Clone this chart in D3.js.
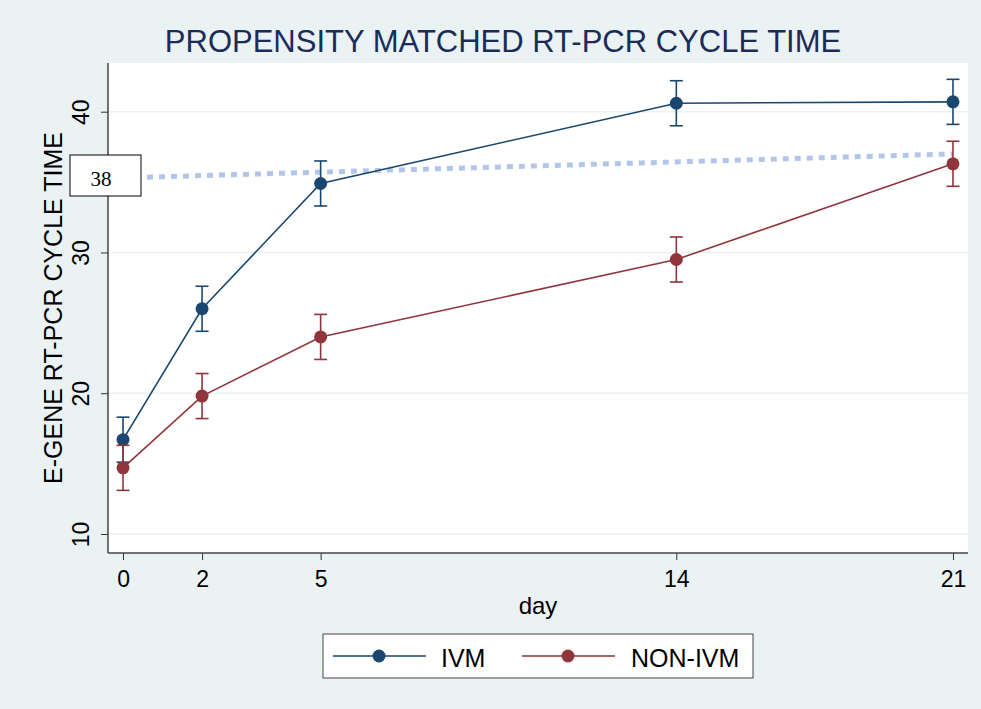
<!DOCTYPE html>
<html>
<head>
<meta charset="utf-8">
<script src="https://cdn.jsdelivr.net/npm/d3@7"></script>
<style>
  html, body { margin: 0; padding: 0; background: #eaf2f3; }
  svg { display: block; font-family: "Liberation Sans", Arial, sans-serif; }
</style>
</head>
<body>
<div id="chart"></div>
<script>
// chart data
const days = [0, 2, 5, 14, 21];
const ivmMean = [16.7, 26.0, 34.9, 40.6, 40.7];
const ivmLow = [15.1, 24.4, 33.3, 39.0, 39.1];
const ivmHigh = [18.3, 27.6, 36.5, 42.2, 42.3];
const nonMean = [14.7, 19.8, 24.0, 29.5, 36.3];
const nonLow = [13.1, 18.2, 22.4, 27.9, 34.7];
const nonHigh = [16.3, 21.4, 25.6, 31.1, 37.9];
const refDays = [0, 21];
const refValues = [35.3, 37.0];
const refLabel = '38';
const yTicks = [10, 20, 30, 40];
const seriesNames = ['IVM', 'NON-IVM'];

const width = 981, height = 709;
const plot = { left: 108, right: 968, top: 63, bottom: 553 };
const colors = { IVM: '#1a476f', 'NON-IVM': '#90353b' };

const svg = d3.select('#chart').append('svg')
  .attr('width', width)
  .attr('height', height);

svg.append('rect')
  .attr('width', width).attr('height', height)
  .attr('fill', '#eaf2f3');

svg.append('rect')
  .attr('x', plot.left).attr('y', plot.top)
  .attr('width', plot.right - plot.left)
  .attr('height', plot.bottom - plot.top)
  .attr('fill', '#fff');

const x = d3.scaleLinear().domain([-0.38, 21.38]).range([plot.left, plot.right]);
const y = d3.scaleLinear().domain([10, 40]).range([534, 111.7]);

// gridlines
svg.append('g').selectAll('line')
  .data(yTicks)
  .join('line')
  .attr('x1', plot.left).attr('x2', plot.right)
  .attr('y1', d => y(d)).attr('y2', d => y(d))
  .attr('stroke', '#eaf2f3')
  .attr('stroke-width', 1.5);

// axes
const yAxis = svg.append('g')
  .attr('transform', `translate(${plot.left},0)`)
  .call(d3.axisLeft(y).tickValues(yTicks).tickSize(7).tickFormat(d3.format('d')));
const xAxis = svg.append('g')
  .attr('transform', `translate(0,${plot.bottom})`)
  .call(d3.axisBottom(x).tickValues(days).tickSize(7).tickFormat(d3.format('d')));

[yAxis, xAxis].forEach(ax => {
  ax.select('.domain').remove();
  ax.selectAll('line').attr('stroke', '#333');
  ax.selectAll('text').attr('fill', '#000').attr('font-size', 23)
    .attr('font-family', '"Liberation Sans", Arial, sans-serif');
});
// vertical tick labels, reading bottom to top
yAxis.selectAll('text')
  .attr('text-anchor', 'middle')
  .attr('transform', 'translate(-19,0) rotate(-90)')
  .attr('x', 0).attr('y', 0).attr('dy', 0);
xAxis.selectAll('text').attr('y', 34).attr('dy', 0);

svg.append('line')
  .attr('x1', plot.left).attr('x2', plot.left)
  .attr('y1', plot.top).attr('y2', plot.bottom)
  .attr('stroke', '#444').attr('stroke-width', 1.5);
svg.append('line')
  .attr('x1', plot.left).attr('x2', plot.right)
  .attr('y1', plot.bottom).attr('y2', plot.bottom)
  .attr('stroke', '#444').attr('stroke-width', 1.5);

// dotted reference line
svg.append('line')
  .attr('x1', x(refDays[0])).attr('x2', x(refDays[1]))
  .attr('y1', y(refValues[0])).attr('y2', y(refValues[1]))
  .attr('stroke', '#b3c6e8')
  .attr('stroke-width', 5)
  .attr('stroke-dasharray', '6,6');

// series
const series = [
  { name: 'IVM', mean: ivmMean, low: ivmLow, high: ivmHigh },
  { name: 'NON-IVM', mean: nonMean, low: nonLow, high: nonHigh }
];

const line = d3.line().x(d => x(d.day)).y(d => y(d.v));

series.forEach(s => {
  const pts = days.map((d, i) => ({ day: d, v: s.mean[i], lo: s.low[i], hi: s.high[i] }));
  const c = colors[s.name];
  const g = svg.append('g');

  g.append('path')
    .datum(pts)
    .attr('d', line)
    .attr('fill', 'none')
    .attr('stroke', c)
    .attr('stroke-width', 1.6);

  const eb = g.selectAll('g.eb').data(pts).join('g').attr('class', 'eb');
  eb.append('line')
    .attr('x1', d => x(d.day)).attr('x2', d => x(d.day))
    .attr('y1', d => y(d.lo)).attr('y2', d => y(d.hi))
    .attr('stroke', c).attr('stroke-width', 1.6);
  eb.append('line')
    .attr('x1', d => x(d.day) - 6.5).attr('x2', d => x(d.day) + 6.5)
    .attr('y1', d => y(d.lo)).attr('y2', d => y(d.lo))
    .attr('stroke', c).attr('stroke-width', 1.6);
  eb.append('line')
    .attr('x1', d => x(d.day) - 6.5).attr('x2', d => x(d.day) + 6.5)
    .attr('y1', d => y(d.hi)).attr('y2', d => y(d.hi))
    .attr('stroke', c).attr('stroke-width', 1.6);

  g.selectAll('circle').data(pts).join('circle')
    .attr('cx', d => x(d.day)).attr('cy', d => y(d.v))
    .attr('r', 6.5)
    .attr('fill', c);
});

// label box "38"
svg.append('rect')
  .attr('x', 70).attr('y', 155)
  .attr('width', 71).attr('height', 41)
  .attr('fill', '#fff')
  .attr('stroke', '#000')
  .attr('stroke-width', 1);
svg.append('text')
  .attr('x', 101).attr('y', 186)
  .attr('text-anchor', 'middle')
  .attr('font-family', '"Liberation Serif", "Times New Roman", serif')
  .attr('font-size', 21)
  .text(refLabel);

// titles
svg.append('text')
  .attr('x', 503).attr('y', 52)
  .attr('text-anchor', 'middle')
  .attr('font-size', 31)
  .attr('fill', '#1a2d5a')
  .text('PROPENSITY MATCHED RT-PCR CYCLE TIME');

svg.append('text')
  .attr('transform', `translate(62,${(plot.top + plot.bottom) / 2}) rotate(-90)`)
  .attr('text-anchor', 'middle')
  .attr('font-size', 25)
  .text('E-GENE RT-PCR CYCLE TIME');

svg.append('text')
  .attr('x', 538).attr('y', 614)
  .attr('text-anchor', 'middle')
  .attr('font-size', 24)
  .text('day');

// legend
const legend = svg.append('g');
legend.append('rect')
  .attr('x', 323).attr('y', 634)
  .attr('width', 430).attr('height', 44)
  .attr('fill', '#fff')
  .attr('stroke', '#444')
  .attr('stroke-width', 1);

const legendItems = [
  { name: seriesNames[0], x0: 333, tx: 441 },
  { name: seriesNames[1], x0: 522, tx: 631 }
];
legendItems.forEach(it => {
  const c = colors[it.name];
  legend.append('line')
    .attr('x1', it.x0).attr('x2', it.x0 + 93)
    .attr('y1', 656).attr('y2', 656)
    .attr('stroke', c).attr('stroke-width', 1.6);
  legend.append('circle')
    .attr('cx', it.x0 + 46).attr('cy', 656).attr('r', 6.5)
    .attr('fill', c);
  legend.append('text')
    .attr('x', it.tx).attr('y', 667)
    .attr('font-size', 25)
    .text(it.name);
});
</script>
</body>
</html>
